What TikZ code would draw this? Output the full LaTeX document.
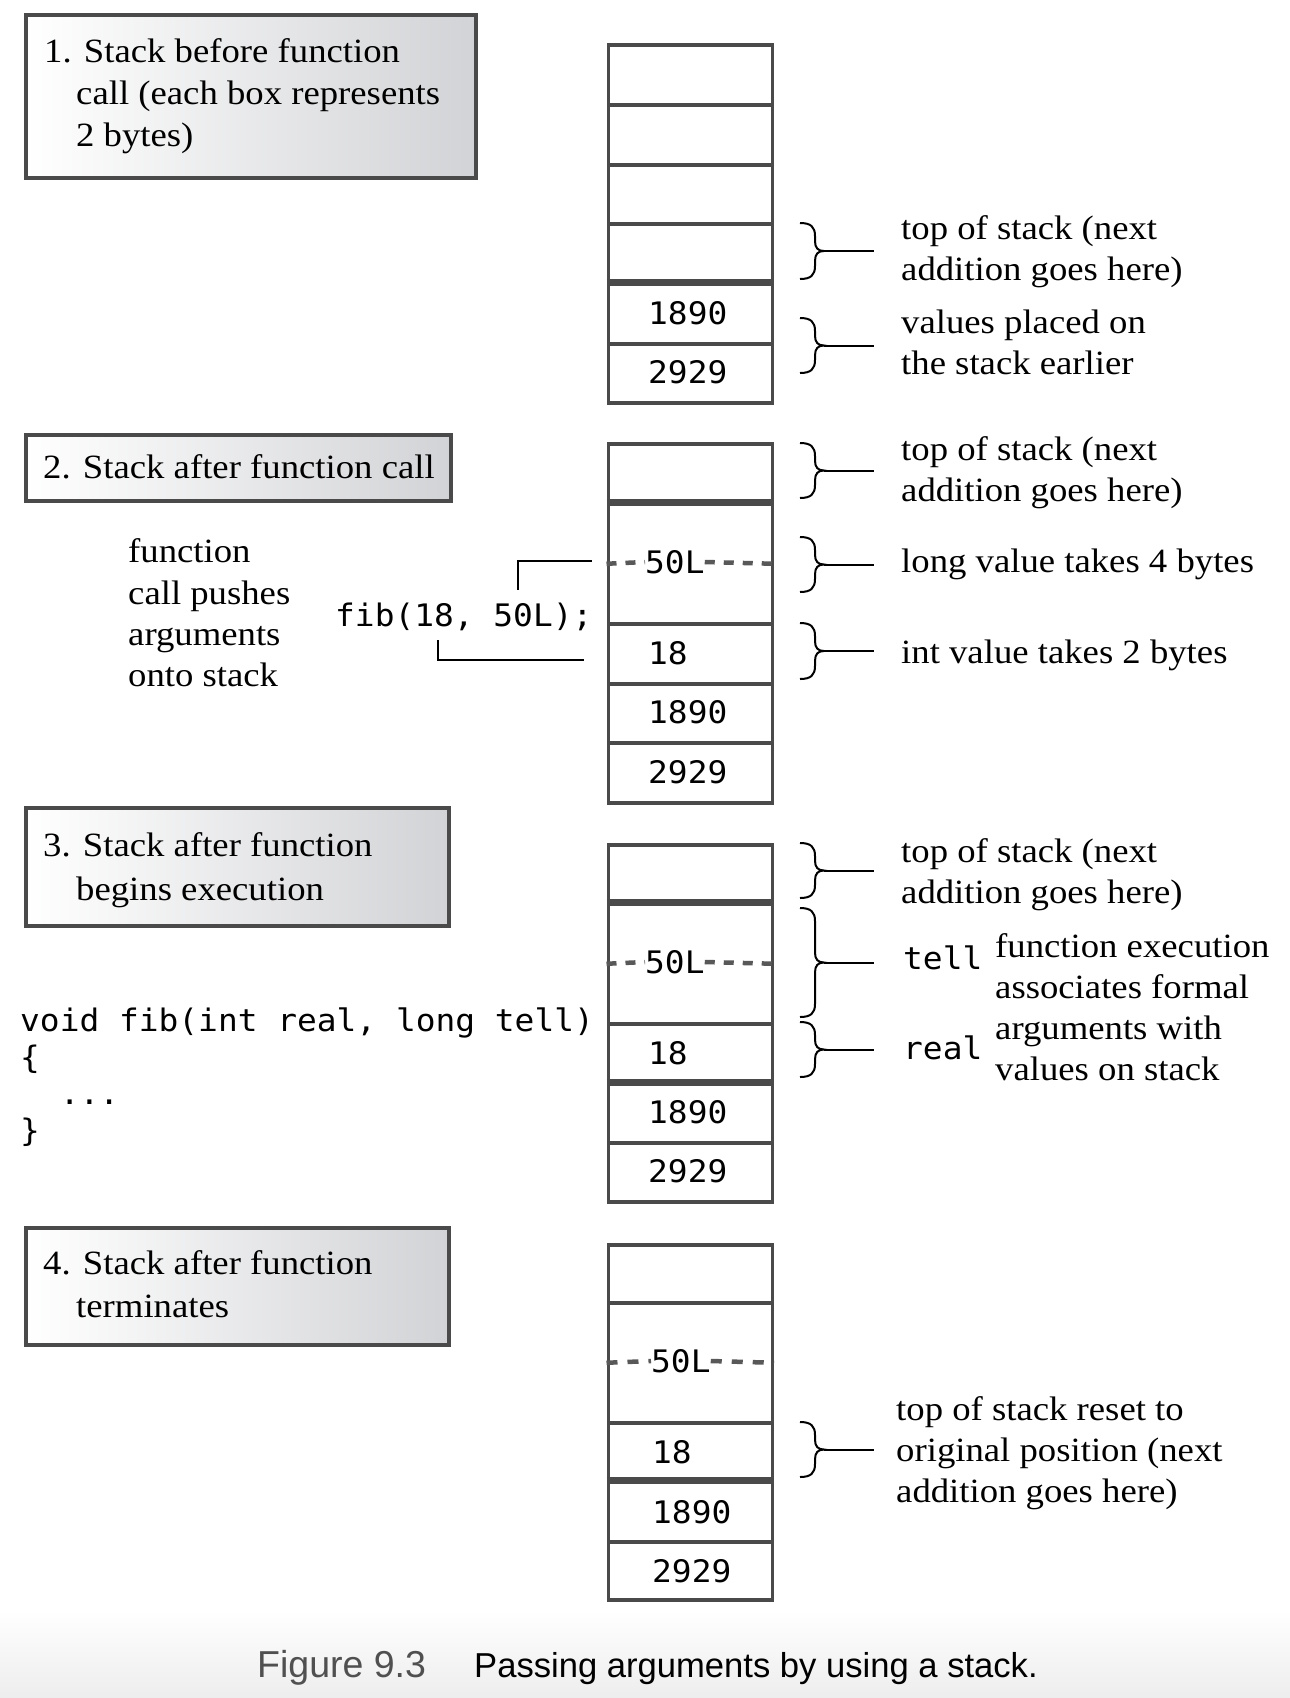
\documentclass[tikz,border=0pt]{standalone}
\usepackage{fontspec}
\setmainfont{Liberation Serif}[FakeStretch=1.08]
\newfontfamily\codefont{DejaVu Sans Mono}[FakeStretch=1.06]
\newfontfamily\capfont{Liberation Sans}
\definecolor{boxgray}{RGB}{210,211,214}
\definecolor{edgegray}{RGB}{74,74,74}
\definecolor{dashgray}{RGB}{88,88,88}
\definecolor{capgray}{RGB}{80,80,80}
\tikzset{
  lbox/.style={draw=edgegray, line width=3.5pt, left color=white, right color=boxgray, inner sep=0pt, anchor=north west},
  stcell/.style={draw=edgegray, line width=3.5pt, fill=white, minimum width=164pt, inner sep=0pt, anchor=north west},
  sertxt/.style={font=\fontsize{34}{40}\selectfont, inner sep=0pt, anchor=base west},
  codetxt/.style={font=\codefont\fontsize{31}{36}\selectfont, inner sep=0pt, anchor=base west},
  valtxt/.style={font=\codefont\fontsize{31}{36}\selectfont, inner sep=0pt, anchor=west},
  captxt/.style={font=\capfont\fontsize{35}{40}\selectfont, inner sep=0pt, anchor=base west},
  thicksep/.style={draw=edgegray, line width=6.5pt},
  dsh/.style={draw=dashgray, line width=4.5pt, dash pattern=on 10pt off 9pt},
  brc/.style={draw=black, line width=2pt},
  leader/.style={draw=black, line width=1.8pt},
}
\newcommand\mybrace[2]{%
  \draw[brc] (800,#1) .. controls (811,#1) and (815,#1+4) .. (815,#1+13)
     -- (815,{(#1+#2)/2-10}) .. controls (815,{(#1+#2)/2-3}) and (818,{(#1+#2)/2}) .. (824,{(#1+#2)/2})
     .. controls (818,{(#1+#2)/2}) and (815,{(#1+#2)/2+3}) .. (815,{(#1+#2)/2+10})
     -- (815,#2-13) .. controls (815,#2-4) and (811,#2) .. (800,#2);
  \draw[brc] (824,{(#1+#2)/2}) -- (874,{(#1+#2)/2});
}
\begin{document}
\begin{tikzpicture}[x=1pt, y=-1pt]
\useasboundingbox (0,0) rectangle (1290,1698);
\shade[top color=white, bottom color=black!7, draw=none] (0,1610) rectangle (1290,1698);

% ---------- label boxes ----------
\node[lbox, minimum width=450pt, minimum height=163pt] (b1) at (24,13) {};
\node[sertxt] (b1a) at (44,62) {1. Stack before function};
\node[sertxt] (b1b) at (76,104) {call (each box represents};
\node[sertxt] (b1c) at (76,146) {2 bytes)};

\node[lbox, minimum width=425pt, minimum height=66pt] (b2) at (24,433) {};
\node[sertxt] (b2a) at (43,478) {2. Stack after function call};

\node[lbox, minimum width=423pt, minimum height=118pt] (b3) at (24,806) {};
\node[sertxt] (b3a) at (43,856) {3. Stack after function};
\node[sertxt] (b3b) at (76,900) {begins execution};

\node[lbox, minimum width=423pt, minimum height=117pt] (b4) at (24,1226) {};
\node[sertxt] (b4a) at (43,1274) {4. Stack after function};
\node[sertxt] (b4b) at (76,1317) {terminates};

% ---------- stack 1 ----------
\node[stcell, minimum height=60pt] (s1c1) at (606.5,43) {};
\node[stcell, minimum height=60pt] (s1c2) at (606.5,103) {};
\node[stcell, minimum height=60pt] (s1c3) at (606.5,163) {};
\node[stcell, minimum height=60pt] (s1c4) at (606.5,222) {};
\node[stcell, minimum height=60pt] (s1c5) at (606.5,282) {};
\node[stcell, minimum height=59pt] (s1c6) at (606.5,342) {};
\draw[thicksep] (s1c5.north west) -- (s1c5.north east);
\node[valtxt] (v1a) at (648,313) {1890};
\node[valtxt] (v1b) at (648,372.5) {2929};

% ---------- stack 2 ----------
\node[stcell, minimum height=60pt] (s2c1) at (606.5,442) {};
\node[stcell, minimum height=120pt] (s2c2) at (606.5,502) {};
\node[stcell, minimum height=60pt] (s2c3) at (606.5,622) {};
\node[stcell, minimum height=59pt] (s2c4) at (606.5,682) {};
\node[stcell, minimum height=60pt] (s2c5) at (606.5,741) {};
\draw[thicksep] (s2c2.north west) -- (s2c2.north east);
\node[valtxt] (v2L) at (645,562) {50L};
\node[valtxt] (v2a) at (648,653) {18};
\node[valtxt] (v2b) at (648,712.5) {1890};
\node[valtxt] (v2c) at (648,772) {2929};
\draw[dsh] (s2c2.west) -- (v2L.west);
\draw[dsh] (v2L.east) -- (s2c2.east);

% ---------- stack 3 ----------
\node[stcell, minimum height=59pt] (s3c1) at (606.5,843) {};
\node[stcell, minimum height=120pt] (s3c2) at (606.5,902) {};
\node[stcell, minimum height=60pt] (s3c3) at (606.5,1022) {};
\node[stcell, minimum height=59pt] (s3c4) at (606.5,1082) {};
\node[stcell, minimum height=59pt] (s3c5) at (606.5,1141) {};
\draw[thicksep] (s3c2.north west) -- (s3c2.north east);
\draw[thicksep] (s3c4.north west) -- (s3c4.north east);
\node[valtxt] (v3L) at (645,962) {50L};
\node[valtxt] (v3a) at (648,1053) {18};
\node[valtxt] (v3b) at (648,1112.5) {1890};
\node[valtxt] (v3c) at (648,1171.5) {2929};
\draw[dsh] (s3c2.west) -- (v3L.west);
\draw[dsh] (v3L.east) -- (s3c2.east);

% ---------- stack 4 ----------
\node[stcell, minimum height=58pt] (s4c1) at (606.5,1243) {};
\node[stcell, minimum height=120pt] (s4c2) at (606.5,1301) {};
\node[stcell, minimum height=59pt] (s4c3) at (606.5,1421) {};
\node[stcell, minimum height=60pt] (s4c4) at (606.5,1480) {};
\node[stcell, minimum height=58pt] (s4c5) at (606.5,1540) {};
\draw[thicksep] (s4c4.north west) -- (s4c4.north east);
\node[valtxt] (v4L) at (651,1361) {50L};
\node[valtxt] (v4a) at (652,1452) {18};
\node[valtxt] (v4b) at (652,1512) {1890};
\node[valtxt] (v4c) at (652,1571) {2929};
\draw[dsh, dash pattern=on 11pt off 10pt] (s4c2.west) -- (v4L.west);
\draw[dsh, dash pattern=on 11pt off 10pt] (v4L.east) -- (s4c2.east);

% ---------- braces ----------
\mybrace{223}{279}
\mybrace{318}{373}
\mybrace{443}{498}
\mybrace{537}{592}
\mybrace{623}{679}
\mybrace{843}{898}
\mybrace{908}{1017}
\mybrace{1022}{1077}
\mybrace{1422}{1477}

% ---------- right-hand texts ----------
\node[sertxt] (r1a) at (901,239) {top of stack (next};
\node[sertxt] (r1b) at (901,280) {addition goes here)};
\node[sertxt] (r1c) at (901,333) {values placed on};
\node[sertxt] (r1d) at (901,374) {the stack earlier};

\node[sertxt] (r2a) at (901,460) {top of stack (next};
\node[sertxt] (r2b) at (901,501) {addition goes here)};
\node[sertxt] (r2c) at (901,572) {long value takes 4 bytes};
\node[sertxt] (r2d) at (901,663) {int value takes 2 bytes};

\node[sertxt] (r3a) at (901,862) {top of stack (next};
\node[sertxt] (r3b) at (901,903) {addition goes here)};
\node[codetxt] (r3t) at (903,969) {tell};
\node[codetxt] (r3r) at (903,1059) {real};
\node[sertxt] (r3c) at (995,957) {function execution};
\node[sertxt] (r3d) at (995,998) {associates formal};
\node[sertxt] (r3e) at (995,1039) {arguments with};
\node[sertxt] (r3f) at (995,1080) {values on stack};

\node[sertxt] (r4a) at (896,1420) {top of stack reset to};
\node[sertxt] (r4b) at (896,1461) {original position (next};
\node[sertxt] (r4c) at (896,1502) {addition goes here)};

% ---------- left-hand texts ----------
\node[sertxt] (l2a) at (128,562) {function};
\node[sertxt] (l2b) at (128,604) {call pushes};
\node[sertxt] (l2c) at (128,645) {arguments};
\node[sertxt] (l2d) at (128,686) {onto stack};
\node[codetxt] (fib) at (335,626) {fib(18, 50L);};
\coordinate (fibL) at (518,590);
\coordinate (tgtL) at (592,561);
\coordinate (fibI) at (438,640);
\coordinate (tgtI) at (584,660);
\draw[leader] (fibL) |- (tgtL);
\draw[leader] (fibI) |- (tgtI);

\node[codetxt] (c1) at (20,1031) {void fib(int real, long tell)};
\node[codetxt] (c2) at (20,1068) {\{};
\node[codetxt] (c3) at (20,1104) {\ \ ...};
\node[codetxt] (c4) at (20,1141) {\}};

% ---------- caption ----------
\node[captxt, font=\capfont\fontsize{37.5}{40}\selectfont, text=capgray] (capA) at (257,1677) {Figure 9.3};
\node[captxt, font=\capfont\fontsize{34.6}{40}\selectfont] (capB) at (474,1677) {Passing arguments by using a stack.};
\end{tikzpicture}
\end{document}
